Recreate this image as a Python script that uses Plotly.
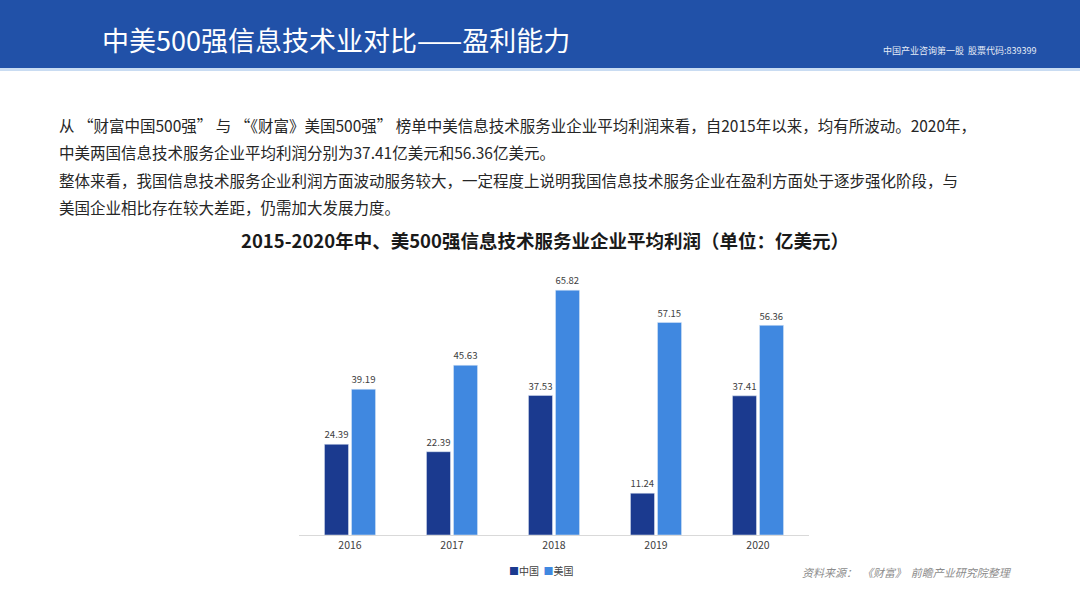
import plotly.graph_objects as go

years = ["2016", "2017", "2018", "2019", "2020"]
china = [24.39, 22.39, 37.53, 11.24, 37.41]
usa = [39.19, 45.63, 65.82, 57.15, 56.36]
series_names = ["中国", "美国"]
series_colors = ["#1b3a8f", "#4088e0"]

header_title = "中美500强信息技术业对比——盈利能力"
header_right = "中国产业咨询第一股  股票代码:839399"
chart_title = "2015-2020年中、美500强信息技术服务业企业平均利润（单位：亿美元）"
para_lines = [
    "从 “财富中国500强” 与 “《财富》美国500强” 榜单中美信息技术服务业企业平均利润来看，自2015年以来，均有所波动。2020年，",
    "中美两国信息技术服务企业平均利润分别为37.41亿美元和56.36亿美元。",
    "整体来看，我国信息技术服务企业利润方面波动服务较大，一定程度上说明我国信息技术服务企业在盈利方面处于逐步强化阶段，与",
    "美国企业相比存在较大差距，仍需加大发展力度。",
]
source = "资料来源：  《财富》  前瞻产业研究院整理"

W, H = 1080, 607
def px(x):
    return x / W
def py(y):
    return 1 - y / H

CJK = "Noto Sans CJK SC, Noto Sans, sans-serif"

fig = go.Figure()
for name, vals, col in zip(series_names, [china, usa], series_colors):
    fig.add_trace(go.Bar(x=years, y=vals, name=name, marker_color=col,
                         text=[f"{v:.2f}" for v in vals], textposition="outside",
                         textfont=dict(size=10, color="#404040"), cliponaxis=False,
                         showlegend=False))

ymax = 70
base_y = 535
scale = 3.72
top_y = base_y - ymax * scale

fig.update_layout(
    width=W, height=H,
    margin=dict(l=0, r=0, t=0, b=0),
    paper_bgcolor="white", plot_bgcolor="white",
    barmode="group", bargap=0.47, bargroupgap=0.11,
    font=dict(family=CJK, color="#333333"),
    xaxis=dict(domain=[px(299), px(809)], showline=True, linecolor="#d9d9d9", linewidth=1,
               ticks="", tickfont=dict(size=10.5, color="#404040"), showgrid=False),
    yaxis=dict(domain=[py(base_y), py(top_y)], range=[0, ymax], visible=False, showgrid=False),
    shapes=[
        dict(type="rect", xref="paper", yref="paper", x0=0, x1=1, y0=py(68), y1=1,
             fillcolor="#2151a8", line=dict(width=0), layer="below"),
        dict(type="rect", xref="paper", yref="paper", x0=0, x1=1, y0=py(71), y1=py(68),
             fillcolor="#c9dcf2", line=dict(width=0), layer="below"),
    ],
)

ann = []
ann.append(dict(text=header_title, x=px(572), y=py(40), xref="paper", yref="paper",
                xanchor="right", yanchor="middle", showarrow=False,
                font=dict(size=27, color="white", family=CJK)))
ann.append(dict(text=header_right, x=px(1039), y=py(50), xref="paper", yref="paper",
                xanchor="right", yanchor="middle", showarrow=False,
                font=dict(size=9, color="#e6ecf7", family=CJK)))
line_ys = [125, 152, 180, 207]
for t, yy in zip(para_lines, line_ys):
    ann.append(dict(text=t, x=px(57), y=py(yy), xref="paper", yref="paper",
                    xanchor="left", yanchor="middle", showarrow=False,
                    font=dict(size=15.5, color="#262626", family=CJK)))
ann.append(dict(text="<b>" + chart_title + "</b>", x=px(545), y=py(240), xref="paper", yref="paper",
                xanchor="center", yanchor="middle", showarrow=False,
                font=dict(size=18.5, color="#1a1a1a", family=CJK)))
legend_text = "  ".join(
    f"<span style='color:{c}'>■</span>{n}" for n, c in zip(series_names, series_colors))
ann.append(dict(text=legend_text, x=px(541), y=py(570), xref="paper", yref="paper",
                xanchor="center", yanchor="middle", showarrow=False,
                font=dict(size=10, color="#404040", family=CJK)))
ann.append(dict(text="<i>" + source + "</i>", x=px(800), y=py(572), xref="paper", yref="paper",
                xanchor="left", yanchor="middle", showarrow=False,
                font=dict(size=11, color="#8c8c8c", family=CJK)))
fig.update_layout(annotations=ann)

fig.write_html("out.html")
